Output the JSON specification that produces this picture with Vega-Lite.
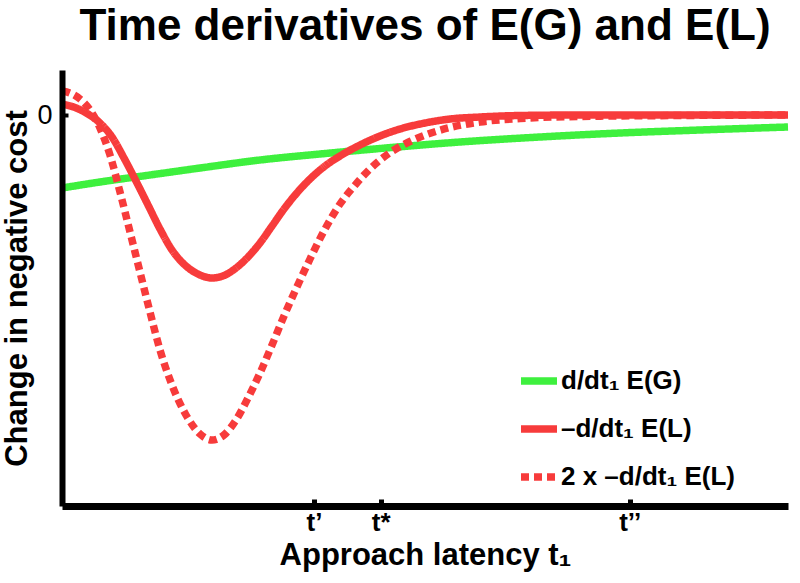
{
  "$schema": "https://vega.github.io/schema/vega-lite/v6.json",
  "width": 726,
  "height": 436,
  "autosize": {"type": "none"},
  "padding": {"left": 62, "top": 70, "right": 12, "bottom": 77},
  "background": "white",
  "title": {"text": "Time derivatives of E(G) and E(L)", "fontSize": 44, "font": "Liberation Sans", "fontWeight": "bold", "anchor": "middle", "baseline": "alphabetic", "offset": -14, "color": "black"},
  "config": {"view": {"stroke": null}, "font": "Liberation Sans"},
  "data": {"values": [
    {"series": "d/dt₁ E(G)", "x": 0, "y": -7.3},
    {"series": "d/dt₁ E(G)", "x": 5.23, "y": -6.7},
    {"series": "d/dt₁ E(G)", "x": 12.12, "y": -6.0},
    {"series": "d/dt₁ E(G)", "x": 19.01, "y": -5.3},
    {"series": "d/dt₁ E(G)", "x": 27.27, "y": -4.5},
    {"series": "d/dt₁ E(G)", "x": 35.54, "y": -3.9},
    {"series": "d/dt₁ E(G)", "x": 43.8, "y": -3.35},
    {"series": "d/dt₁ E(G)", "x": 54.82, "y": -2.7},
    {"series": "d/dt₁ E(G)", "x": 65.84, "y": -2.2},
    {"series": "d/dt₁ E(G)", "x": 76.86, "y": -1.8},
    {"series": "d/dt₁ E(G)", "x": 87.88, "y": -1.5},
    {"series": "d/dt₁ E(G)", "x": 100, "y": -1.2},

    {"series": "2 x –d/dt₁ E(L)", "x": 0, "y": 2.4},
    {"series": "2 x –d/dt₁ E(L)", "x": 1.1, "y": 2.2},
    {"series": "2 x –d/dt₁ E(L)", "x": 2.48, "y": 1.6},
    {"series": "2 x –d/dt₁ E(L)", "x": 3.86, "y": 0.5},
    {"series": "2 x –d/dt₁ E(L)", "x": 5.23, "y": -1.3},
    {"series": "2 x –d/dt₁ E(L)", "x": 6.61, "y": -4.0},
    {"series": "2 x –d/dt₁ E(L)", "x": 7.99, "y": -7.7},
    {"series": "2 x –d/dt₁ E(L)", "x": 9.37, "y": -11.7},
    {"series": "2 x –d/dt₁ E(L)", "x": 10.74, "y": -15.7},
    {"series": "2 x –d/dt₁ E(L)", "x": 12.12, "y": -19.7},
    {"series": "2 x –d/dt₁ E(L)", "x": 13.5, "y": -23.5},
    {"series": "2 x –d/dt₁ E(L)", "x": 15.15, "y": -27.0},
    {"series": "2 x –d/dt₁ E(L)", "x": 17.08, "y": -30.0},
    {"series": "2 x –d/dt₁ E(L)", "x": 19.01, "y": -31.9},
    {"series": "2 x –d/dt₁ E(L)", "x": 20.66, "y": -32.5},
    {"series": "2 x –d/dt₁ E(L)", "x": 22.31, "y": -32.0},
    {"series": "2 x –d/dt₁ E(L)", "x": 23.97, "y": -30.5},
    {"series": "2 x –d/dt₁ E(L)", "x": 25.62, "y": -28.3},
    {"series": "2 x –d/dt₁ E(L)", "x": 27.27, "y": -25.8},
    {"series": "2 x –d/dt₁ E(L)", "x": 28.93, "y": -23.0},
    {"series": "2 x –d/dt₁ E(L)", "x": 30.58, "y": -20.1},
    {"series": "2 x –d/dt₁ E(L)", "x": 32.23, "y": -17.4},
    {"series": "2 x –d/dt₁ E(L)", "x": 34.16, "y": -14.4},
    {"series": "2 x –d/dt₁ E(L)", "x": 36.23, "y": -11.4},
    {"series": "2 x –d/dt₁ E(L)", "x": 38.29, "y": -8.9},
    {"series": "2 x –d/dt₁ E(L)", "x": 40.5, "y": -6.9},
    {"series": "2 x –d/dt₁ E(L)", "x": 42.56, "y": -5.3},
    {"series": "2 x –d/dt₁ E(L)", "x": 45.32, "y": -3.7},
    {"series": "2 x –d/dt₁ E(L)", "x": 48.07, "y": -2.6},
    {"series": "2 x –d/dt₁ E(L)", "x": 50.83, "y": -1.8},
    {"series": "2 x –d/dt₁ E(L)", "x": 53.44, "y": -1.25},
    {"series": "2 x –d/dt₁ E(L)", "x": 57.58, "y": -0.7},
    {"series": "2 x –d/dt₁ E(L)", "x": 63.09, "y": -0.35},
    {"series": "2 x –d/dt₁ E(L)", "x": 71.35, "y": -0.15},
    {"series": "2 x –d/dt₁ E(L)", "x": 85.12, "y": -0.05},
    {"series": "2 x –d/dt₁ E(L)", "x": 100, "y": 0},

    {"series": "–d/dt₁ E(L)", "x": 0, "y": 1.1},
    {"series": "–d/dt₁ E(L)", "x": 1.79, "y": 0.75},
    {"series": "–d/dt₁ E(L)", "x": 3.58, "y": 0.1},
    {"series": "–d/dt₁ E(L)", "x": 5.23, "y": -0.8},
    {"series": "–d/dt₁ E(L)", "x": 6.89, "y": -2.2},
    {"series": "–d/dt₁ E(L)", "x": 8.54, "y": -4.3},
    {"series": "–d/dt₁ E(L)", "x": 10.19, "y": -6.6},
    {"series": "–d/dt₁ E(L)", "x": 11.85, "y": -9.0},
    {"series": "–d/dt₁ E(L)", "x": 13.5, "y": -11.4},
    {"series": "–d/dt₁ E(L)", "x": 15.15, "y": -13.5},
    {"series": "–d/dt₁ E(L)", "x": 17.08, "y": -15.1},
    {"series": "–d/dt₁ E(L)", "x": 19.01, "y": -16.0},
    {"series": "–d/dt₁ E(L)", "x": 20.66, "y": -16.3},
    {"series": "–d/dt₁ E(L)", "x": 22.31, "y": -16.05},
    {"series": "–d/dt₁ E(L)", "x": 23.97, "y": -15.3},
    {"series": "–d/dt₁ E(L)", "x": 25.62, "y": -14.2},
    {"series": "–d/dt₁ E(L)", "x": 27.27, "y": -12.8},
    {"series": "–d/dt₁ E(L)", "x": 28.93, "y": -11.1},
    {"series": "–d/dt₁ E(L)", "x": 30.58, "y": -9.4},
    {"series": "–d/dt₁ E(L)", "x": 32.23, "y": -7.9},
    {"series": "–d/dt₁ E(L)", "x": 34.16, "y": -6.4},
    {"series": "–d/dt₁ E(L)", "x": 36.23, "y": -5.1},
    {"series": "–d/dt₁ E(L)", "x": 38.29, "y": -4.1},
    {"series": "–d/dt₁ E(L)", "x": 41.05, "y": -3.0},
    {"series": "–d/dt₁ E(L)", "x": 43.8, "y": -2.1},
    {"series": "–d/dt₁ E(L)", "x": 46.56, "y": -1.4},
    {"series": "–d/dt₁ E(L)", "x": 50.0, "y": -0.8},
    {"series": "–d/dt₁ E(L)", "x": 53.44, "y": -0.4},
    {"series": "–d/dt₁ E(L)", "x": 57.58, "y": -0.2},
    {"series": "–d/dt₁ E(L)", "x": 63.09, "y": -0.05},
    {"series": "–d/dt₁ E(L)", "x": 71.35, "y": 0},
    {"series": "–d/dt₁ E(L)", "x": 100, "y": 0}
  ]},
  "mark": {"type": "line", "strokeWidth": 7.5, "interpolate": "monotone", "clip": false, "strokeCap": "butt"},
  "encoding": {
    "x": {
      "field": "x", "type": "quantitative",
      "scale": {"domain": [0, 100], "nice": false, "zero": false},
      "axis": {
        "title": "Approach latency t₁",
        "values": [34.7, 43.9, 78.2],
        "labelExpr": "datum.value < 40 ? 't’' : (datum.value < 60 ? 't*' : 't’’')",
        "grid": false, "domainColor": "black", "domainWidth": 7,
        "tickColor": "black", "tickSize": -7, "tickWidth": 5,
        "labelFontSize": 26, "labelFontWeight": "bold", "labelColor": "black", "labelPadding": 10, "labelFlush": false,
        "titleFontSize": 31, "titleFontWeight": "bold", "titleColor": "black",
        "titleY": 58, "titleBaseline": "alphabetic", "zindex": 1
      }
    },
    "y": {
      "field": "y", "type": "quantitative",
      "scale": {"domain": [-39.1, 4.5], "nice": false, "zero": false},
      "axis": {
        "title": "Change in negative cost",
        "values": [0],
        "grid": false, "domainColor": "black", "domainWidth": 6,
        "tickColor": "black", "tickSize": -6, "tickWidth": 4,
        "labelFontSize": 27, "labelColor": "black", "labelPadding": 16,
        "titleFontSize": 31, "titleFontWeight": "bold", "titleColor": "black",
        "titleX": -36, "titleY": 218, "titleBaseline": "alphabetic", "titleAlign": "center", "titleAngle": 270,
        "zindex": 1
      }
    },
    "color": {
      "field": "series", "type": "nominal",
      "scale": {"domain": ["d/dt₁ E(G)", "–d/dt₁ E(L)", "2 x –d/dt₁ E(L)"], "range": ["#3ef03e", "#f73b3b", "#f73b3b"]},
      "legend": {"title": null, "orient": "none", "legendX": 455, "legendY": 289, "symbolType": "stroke", "symbolStrokeWidth": 7.5, "symbolSize": 1296, "labelFontSize": 26, "labelFontWeight": "bold", "labelColor": "black", "rowPadding": 11, "labelOffset": 0, "labelLimit": 400}
    },
    "strokeDash": {
      "field": "series", "type": "nominal",
      "scale": {"domain": ["d/dt₁ E(G)", "–d/dt₁ E(L)", "2 x –d/dt₁ E(L)"], "range": [[1, 0], [1, 0], [8, 5]]},
      "legend": {"title": null, "orient": "none", "legendX": 455, "legendY": 289, "symbolType": "stroke", "symbolStrokeWidth": 7.5, "symbolSize": 1296, "labelFontSize": 26, "labelFontWeight": "bold", "labelColor": "black", "rowPadding": 11, "labelOffset": 0, "labelLimit": 400}
    }
  }
}
